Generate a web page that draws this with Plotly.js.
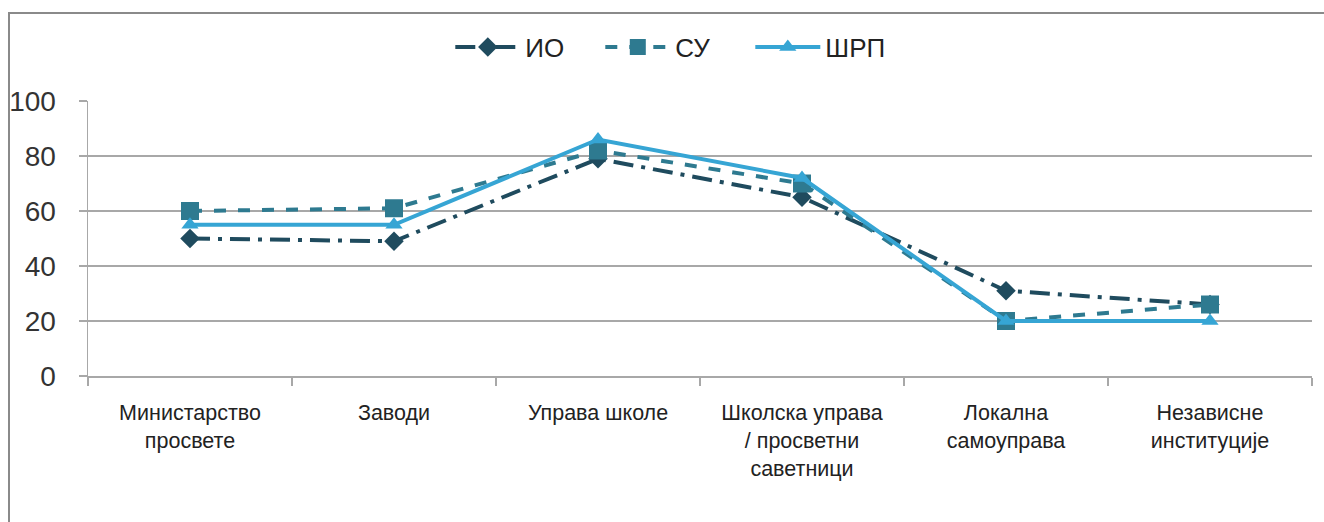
<!DOCTYPE html>
<html>
<head>
<meta charset="utf-8">
<script src="https://cdn.plot.ly/plotly-3.0.1.min.js"></script>
<style>
  html, body { margin: 0; padding: 0; background: #ffffff; overflow: hidden; }
  #frame { position: absolute; left: 8px; top: 12px; width: 1400px; height: 600px;
           border-left: 2px solid #8a8a8a; border-top: 2px solid #8a8a8a; pointer-events: none; }
  #chart { position: absolute; left: 0; top: 0; width: 1324px; height: 522px; }
</style>
</head>
<body>
<div id="chart"></div>
<div id="frame"></div>
<script>
const categories = [
  "Министарство<br>просвете",
  "Заводи",
  "Управа школе",
  "Школска управа<br>/ просветни<br>саветници",
  "Локална<br>самоуправа",
  "Независне<br>институције"
];
const seriesNames = ["ИО", "СУ", "ШРП"];
const valuesIO  = [50, 49, 79, 65, 31, 26];
const valuesSU  = [60, 61, 82, 70, 20, 26];
const valuesSRP = [55, 55, 86, 72, 20, 20];
const yTicks = [0, 20, 40, 60, 80, 100];

const traces = [
  {
    x: categories, y: valuesIO, name: seriesNames[0], type: "scatter", mode: "lines+markers",
    line: { color: "#1f4b5e", width: 4, dash: "longdashdot" },
    marker: { symbol: "diamond", size: 15, color: "#1f4b5e" }
  },
  {
    x: categories, y: valuesSU, name: seriesNames[1], type: "scatter", mode: "lines+markers",
    line: { color: "#2e7a90", width: 4, dash: "dash" },
    marker: { symbol: "square", size: 18, color: "#2e7a90" }
  },
  {
    x: categories, y: valuesSRP, name: seriesNames[2], type: "scatter", mode: "lines+markers",
    line: { color: "#36a5d4", width: 4 },
    marker: { symbol: "triangle-up", size: 15, color: "#36a5d4" }
  }
];

const layout = {
  width: 1324, height: 522,
  paper_bgcolor: "#ffffff", plot_bgcolor: "#ffffff",
  margin: { l: 88, r: 12, t: 101, b: 146 },
  font: { family: "Liberation Sans, Arial, sans-serif", color: "#333333" },
  showlegend: true,
  legend: {
    orientation: "h", x: 0.296, xanchor: "left", y: 1.196, yanchor: "middle",
    font: { size: 26, color: "#222222" }, traceorder: "normal",
    itemwidth: 65,
    entrywidth: 70, entrywidthmode: "pixels"
  },
  xaxis: {
    type: "category",
    tickson: "boundaries",
    ticks: "outside", ticklen: 8, tickcolor: "#a8a8a8", tickwidth: 1.5,
    showgrid: false, showline: true, linecolor: "#a8a8a8", linewidth: 1.5,
    tickfont: { size: 21.5, color: "#222222" },
    ticklabelstandoff: 17,
    range: [-0.5, 5.5],
    fixedrange: true
  },
  yaxis: {
    range: [0, 100], tickvals: yTicks, ticktext: yTicks.map(String),
    ticks: "outside", ticklen: 8, tickcolor: "#a8a8a8", tickwidth: 1.5,
    showgrid: true, gridcolor: "#a8a8a8", gridwidth: 1.5,
    showline: true, linecolor: "#a8a8a8", linewidth: 1.5,
    zeroline: false,
    tickfont: { size: 28, color: "#333333" },
    ticklabelstandoff: 17,
    fixedrange: true
  }
};

Plotly.newPlot("chart", traces, layout, { displayModeBar: false, staticPlot: true });
</script>
</body>
</html>
